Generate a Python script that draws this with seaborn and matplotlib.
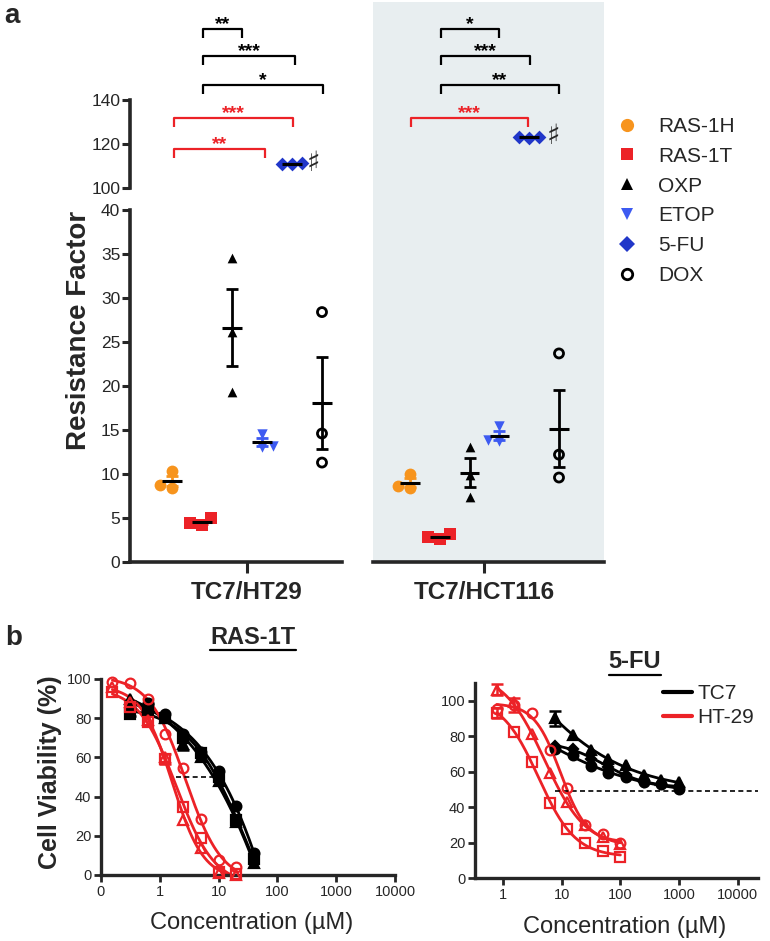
import numpy as np
import seaborn as sns
import matplotlib.pyplot as plt
from matplotlib.lines import Line2D
from matplotlib.ticker import NullLocator

W, H = 770, 941

# ---------------- panel a: resistance factors (3 replicates per drug)
drugs = ['RAS-1H', 'RAS-1T', 'OXP', 'ETOP', '5-FU', 'DOX']
ht29_rf = [[10.3, 8.4, 8.8], [5.0, 4.2, 4.4], [34.5, 26.1, 19.3],
           [14.6, 13.2, 13.1], [111.0, 110.8, 111.2], [28.4, 14.6, 11.3]]
hct116_rf = [[10.0, 8.4, 8.6], [3.2, 2.6, 2.8], [13.1, 9.9, 7.4],
             [15.4, 13.9, 13.8], [123.0, 122.9, 123.1], [23.7, 12.2, 9.6]]
groups = ['TC7/HT29', 'TC7/HCT116']

# significance brackets: (from, to, height, stars, colour)
ht29_sig = [(1.03, 2.33, 172.3, '**', 'k'), (1.03, 4.1, 160.0, '***', 'k'),
            (1.03, 5.03, 146.8, '*', 'k'), (0.07, 4.03, 131.8, '***', 'r'),
            (0.07, 3.1, 117.7, '**', 'r')]
hct116_sig = [(1.03, 3.0, 172.3, '*', 'k'), (1.03, 4.03, 160.0, '***', 'k'),
              (1.03, 5.0, 146.8, '**', 'k'), (0.03, 3.97, 131.8, '***', 'r')]

# ---------------- panel b: dose response (cell viability %)
ras_conc_ht29 = [0.156, 0.3125, 0.625, 1.25, 2.5, 5, 10, 20]
ras_conc_tc7 = [0.3125, 0.625, 1.25, 2.5, 5, 10, 20, 40]
ras_ht29 = [[98.6, 98.0, 90.0, 71.8, 54.4, 28.4, 7.7, 4.3],
            [93.5, 85.9, 78.2, 59.0, 34.9, 18.7, 1.7, 0.5],
            [96.1, 88.4, 79.0, 60.4, 28.0, 13.6, 0.8, 0.0]]
ras_ht29_sem = [[0, 0, 0, 0, 0, 0, 0, 0],
                [0, 0, 0, 2.5, 0, 0, 0, 0],
                [0, 0, 0, 0, 0, 0, 0, 0]]
ras_tc7 = [[85.0, 88.0, 82.0, 72.0, 63.0, 53.0, 35.0, 11.0],
           [82.0, 84.0, 80.0, 70.0, 62.0, 50.0, 28.0, 8.0],
           [90.0, 86.0, 80.0, 67.0, 60.0, 48.0, 27.0, 6.0]]
ras_tc7_sem = [[4, 0, 0, 0, 0, 0, 0, 0],
               [0, 3, 0, 0, 0, 0, 0, 0],
               [0, 0, 0, 3, 0, 0, 0, 0]]

fu_conc_ht29 = [0.78, 1.56, 3.125, 6.25, 12.5, 25, 50, 100]
fu_conc_tc7 = [7.8, 15.6, 31.25, 62.5, 125, 250, 500, 1000]
fu_ht29 = [[95.6, 97.5, 93.1, 72.1, 50.5, 29.9, 24.6, 19.9],
           [93.1, 82.4, 65.5, 42.4, 27.4, 19.5, 15.2, 12.0],
           [106.3, 99.3, 81.1, 59.0, 42.6, 29.9, 23.3, 19.2]]
fu_ht29_sem = [[0, 4, 0, 0, 0, 0, 0, 0],
               [3, 0, 0, 0, 0, 0, 0, 0],
               [3, 0, 0, 0, 0, 0, 0, 0]]
fu_tc7 = [[73.0, 69.3, 63.1, 59.3, 56.7, 54.3, 53.0, 50.0],
          [74.4, 73.0, 67.4, 62.7, 58.0, 54.3, 53.0, 51.4],
          [90.0, 80.6, 72.1, 67.4, 63.7, 58.0, 55.2, 54.3]]
fu_tc7_sem = [[0, 0, 0, 0, 0, 0, 0, 0],
              [0, 0, 0, 0, 0, 0, 0, 0],
              [4, 0, 0, 0, 0, 0, 0, 0]]

# dashed IC50 guides: (x from, x to, y)
ras_ic50_line = (1.9, 9.0, 50)
fu_ic50_line = (7.7, 22000, 49)

# ---------------- style
sns.set_style('ticks')
plt.rcParams['font.family'] = ['Liberation Sans', 'DejaVu Sans']
plt.rcParams['axes.linewidth'] = 2.0

RED = '#ec2227'
ORANGE = '#f7941d'
colors = {'RAS-1H': ORANGE, 'RAS-1T': RED, 'OXP': 'k', 'ETOP': '#3d5af1',
          '5-FU': '#2137c9', 'DOX': 'k'}
markers = {'RAS-1H': 'o', 'RAS-1T': 's', 'OXP': '^', 'ETOP': 'v', '5-FU': 'D', 'DOX': 'o'}
sizes = {'RAS-1H': 8.5, 'RAS-1T': 8, 'OXP': 7, 'ETOP': 7.5, '5-FU': 7, 'DOX': 6.5}


def rect(x0, y0, x1, y1):
    return [x0 / W, 1 - y1 / H, (x1 - x0) / W, (y1 - y0) / H]


fig = plt.figure(figsize=(W / 100, H / 100), dpi=100)

ax_lo1 = fig.add_axes(rect(130, 199, 342, 562))
ax_hi1 = fig.add_axes(rect(130, 2, 342, 199))
ax_lo2 = fig.add_axes(rect(373, 199, 604, 562))
ax_hi2 = fig.add_axes(rect(373, 2, 604, 199))
shade = '#e8eef0'
for ax in (ax_lo2, ax_hi2):
    ax.set_facecolor(shade)
for ax in (ax_lo1, ax_hi1):
    ax.set_facecolor('none')


def draw_group(ax_lo, ax_hi, reps):
    for i, name in enumerate(drugs):
        vals = np.asarray(reps[i], float)
        ax = ax_hi if vals.mean() > 60 else ax_lo
        col = colors[name]
        sns.swarmplot(x=np.full(len(vals), i), y=vals, native_scale=True, orient='x',
                      marker=markers[name], color=col, size=sizes[name],
                      linewidth=2 if name == 'DOX' else 0, edgecolor=col, ax=ax, zorder=3)
        pts = ax.collections[-1]
        pts.set_clip_on(False)
        if name == 'DOX':
            pts.set_facecolor('none')
            pts.set_edgecolor('k')
        m = vals.mean()
        se = vals.std(ddof=1) / np.sqrt(len(vals))
        ax.errorbar(i, m, yerr=se, color=col, capsize=4, capthick=2, elinewidth=2,
                    zorder=4, clip_on=False)
        ax.hlines(m, i - 0.33, i + 0.33, color='k', lw=2.2, zorder=5)


def draw_sig(ax, sig):
    for x0, x1, y, stars, c in sig:
        c = RED if c == 'r' else 'k'
        ax.plot([x0, x0, x1, x1], [y - 4, y, y, y - 4], color=c, lw=1.6,
                solid_capstyle='butt', clip_on=False)
        ax.text((x0 + x1) / 2, y - 0.1, stars, color=c, ha='center', va='baseline',
                fontsize=14, fontweight='bold')


draw_group(ax_lo1, ax_hi1, ht29_rf)
draw_group(ax_lo2, ax_hi2, hct116_rf)
draw_sig(ax_hi1, ht29_sig)
draw_sig(ax_hi2, hct116_sig)
ax_hi1.text(4.5, np.mean(ht29_rf[4]) + 0.5, '\u266f', fontsize=20, ha='left', va='center',
            family=['DejaVu Sans'])
ax_hi2.text(4.58, np.mean(hct116_rf[4]) + 0.5, '\u266f', fontsize=20, ha='left', va='center',
            family=['DejaVu Sans'])

for ax, x0, x1 in ((ax_lo1, -1.4, 5.667), (ax_hi1, -1.4, 5.667),
                   (ax_lo2, -1.24, 6.51), (ax_hi2, -1.24, 6.51)):
    ax.set_xlim(x0, x1)
for ax in (ax_lo1, ax_lo2):
    ax.set_ylim(0, 41.25)
for ax in (ax_hi1, ax_hi2):
    ax.set_ylim(95, 184.5)

for ax in (ax_lo1, ax_hi1, ax_lo2, ax_hi2):
    for s in ('top', 'right'):
        ax.spines[s].set_visible(False)
    ax.tick_params(width=2.2, length=6, labelsize=12.5, pad=1)
    ax.spines['left'].set_linewidth(2.6)
    ax.spines['bottom'].set_linewidth(2.6)

ax_lo1.spines['left'].set_bounds(0, 40)
ax_lo1.set_yticks(np.arange(0, 41, 5))
ax_hi1.spines['left'].set_bounds(100, 140)
ax_hi1.set_yticks([100, 120, 140])
for ax in (ax_hi1, ax_hi2):
    ax.spines['bottom'].set_visible(False)
    ax.set_xticks([])
for ax in (ax_lo2, ax_hi2):
    ax.spines['left'].set_visible(False)
    ax.set_yticks([])
for ax, g in ((ax_lo1, groups[0]), (ax_lo2, groups[1])):
    ax.set_xticks([2.5])
    ax.set_xticklabels([g], fontsize=17.5, fontweight='bold')
    ax.tick_params(axis='x', length=8, pad=6)
for ax in (ax_lo1, ax_hi1, ax_lo2, ax_hi2):
    ax.set_xlabel('')
    ax.set_ylabel('')

fig.text(79 / W, 1 - 330 / H, 'Resistance Factor', rotation=90, ha='center', va='center',
         fontsize=20, fontweight='bold')

handles = []
for name in drugs:
    c = colors[name]
    handles.append(Line2D([], [], ls='none', marker=markers[name], ms=sizes[name] + 1,
                          color=c, mfc='none' if name == 'DOX' else c, mew=2 if name == 'DOX' else 0))
fig.legend(handles, drugs, loc='center left', bbox_to_anchor=(606 / W, 1 - 201 / H),
           frameon=False, fontsize=15, handlelength=1.0, handletextpad=1.0,
           borderpad=0, labelspacing=0.52)

fig.text(12 / W, 1 - 16 / H, 'a', fontsize=20, fontweight='bold', ha='center', va='center')
fig.text(14 / W, 1 - 638 / H, 'b', fontsize=20, fontweight='bold', ha='center', va='center')


# ---------------- panel b
def fit_4pl(conc, resp):
    lx = np.log10(conc)
    y = np.asarray(resp, float)
    lc = np.linspace(lx.min() - 1, lx.max() + 1, 241)[:, None, None]
    hs = np.linspace(0.3, 3.0, 136)[None, :, None]
    s = 1 / (1 + 10 ** ((lx - lc) * hs))
    sm = s.mean(-1, keepdims=True)
    ym = y.mean()
    with np.errstate(divide='ignore', invalid='ignore'):
        a = ((s - sm) * (y - ym)).sum(-1, keepdims=True) / ((s - sm) ** 2).sum(-1, keepdims=True)
    b = ym - a * sm
    sse = ((b + a * s - y) ** 2).sum(-1)
    i, j = np.unravel_index(np.nanargmin(sse), sse.shape)
    return b[i, j, 0], a[i, j, 0], lc[i, 0, 0], hs[0, j, 0]


def draw_dose(ax, conc, series, sems, col, mks, filled):
    conc = np.asarray(conc, float)
    for resp, sem, mk in zip(series, sems, mks):
        resp = np.asarray(resp, float)
        sem = np.asarray(sem, float)
        b, a, lc, h = fit_4pl(conc, resp)
        xs = np.logspace(np.log10(conc.min()), np.log10(conc.max()), 200)
        ys = b + a / (1 + 10 ** ((np.log10(xs) - lc) * h))
        sns.lineplot(x=xs, y=ys, ax=ax, color=col, lw=2.0, estimator=None, sort=False)
        mask = sem > 0
        if mask.any():
            ax.errorbar(conc[mask], resp[mask], yerr=sem[mask], fmt='none', ecolor=col,
                        elinewidth=1.8, capsize=4, capthick=1.8, zorder=3, clip_on=False)
        ax.plot(conc, resp, ls='none', marker=mk, ms=7 if mk != 'D' else 5.5, color=col,
                mfc=col if filled else 'none', mec=col, mew=1.6, zorder=4, clip_on=False)


ax_b1 = fig.add_axes(rect(101, 679, 395, 875))
ax_b2 = fig.add_axes(rect(475, 683, 758, 878))

draw_dose(ax_b1, ras_conc_tc7, ras_tc7, ras_tc7_sem, 'k', ['o', 's', '^'], True)
draw_dose(ax_b1, ras_conc_ht29, ras_ht29, ras_ht29_sem, RED, ['o', 's', '^'], False)
draw_dose(ax_b2, fu_conc_tc7, fu_tc7, fu_tc7_sem, 'k', ['o', 'D', '^'], True)
draw_dose(ax_b2, fu_conc_ht29, fu_ht29, fu_ht29_sem, RED, ['o', 's', '^'], False)

ax_b1.plot(ras_ic50_line[:2], [ras_ic50_line[2]] * 2, 'k--', lw=1.2, dashes=(3, 2))
ax_b2.plot(fu_ic50_line[:2], [fu_ic50_line[2]] * 2, 'k--', lw=1.2, dashes=(3, 2))

for ax in (ax_b1, ax_b2):
    ax.set_xscale('log')
    ax.xaxis.set_minor_locator(NullLocator())
    for s in ('top', 'right'):
        ax.spines[s].set_visible(False)
    ax.spines['left'].set_linewidth(2.4)
    ax.spines['bottom'].set_linewidth(2.4)
    ax.tick_params(width=2.0, length=5, labelsize=10.5, pad=2)
    ax.set_xlabel('')
    ax.set_ylabel('')

ax_b1.set_xlim(0.1, 10000)
ax_b1.set_ylim(0, 100)
ax_b1.set_xticks([0.1, 1, 10, 100, 1000, 10000])
ax_b1.set_xticklabels(['0', '1', '10', '100', '1000', '10000'])
ax_b1.set_yticks(np.arange(0, 101, 20))

ax_b2.set_xlim(10 ** -0.477, 10 ** 4.344)
ax_b2.set_ylim(0, 110)
ax_b2.set_xticks([1, 10, 100, 1000, 10000])
ax_b2.set_xticklabels(['1', '10', '100', '1000', '10000'])
ax_b2.set_yticks(np.arange(0, 101, 20))

fig.legend([Line2D([], [], color='k', lw=3), Line2D([], [], color=RED, lw=3)],
           ['TC7', 'HT-29'], loc='upper left', bbox_to_anchor=(663 / W, 1 - 684 / H),
           frameon=False, fontsize=15, handlelength=1.4, handletextpad=0.25,
           borderpad=0, borderaxespad=0, labelspacing=0.25)

fig.text(50 / W, 1 - 772 / H, 'Cell Viability (%)', rotation=90, ha='center', va='center',
         fontsize=18, fontweight='bold')
fig.text(252 / W, 1 - 923 / H, 'Concentration (\u00b5M)', ha='center', va='center', fontsize=17)
fig.text(625 / W, 1 - 927 / H, 'Concentration (\u00b5M)', ha='center', va='center', fontsize=17)

titles = [fig.text(253 / W, 1 - 637 / H, 'RAS-1T', ha='center', va='center', fontsize=17,
                   fontweight='bold'),
          fig.text(635 / W, 1 - 662 / H, '5-FU', ha='center', va='center', fontsize=17,
                   fontweight='bold')]
fig.canvas.draw()
renderer = fig.canvas.get_renderer()
for t in titles:
    bb = t.get_window_extent(renderer)
    y = (bb.y0 - 1) / fig.bbox.height
    fig.add_artist(Line2D([bb.x0 / fig.bbox.width, bb.x1 / fig.bbox.width], [y, y],
                          color='k', lw=1.6, transform=fig.transFigure))

fig.savefig('out.png', dpi=100)
